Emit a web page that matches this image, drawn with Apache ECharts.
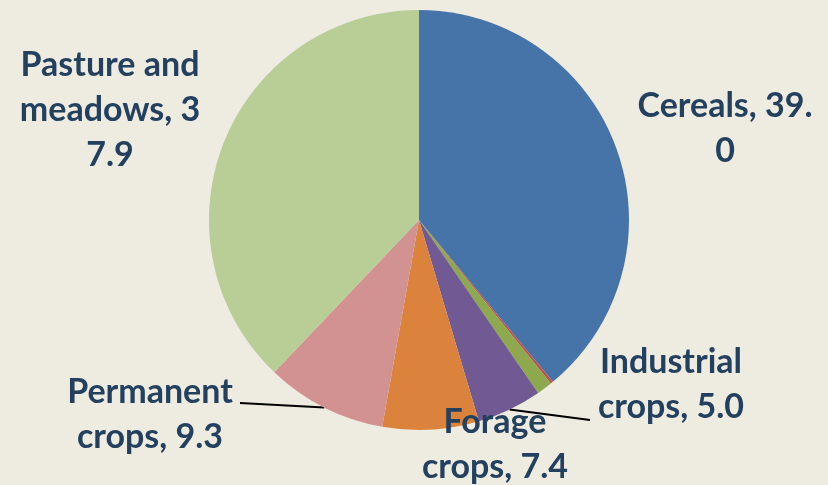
<!DOCTYPE html>
<html>
<head>
<meta charset="utf-8">
<script src="https://cdn.jsdelivr.net/npm/echarts@6/dist/echarts.min.js"></script>
<style>
  html, body { margin: 0; padding: 0; background: #EEEBE1; }
  #chart { width: 828px; height: 485px; }
</style>
</head>
<body>
<div id="chart"></div>
<script>
// Land use shares (%)
const categories = ['Cereals', 'Other', 'Vegetables', 'Industrial crops', 'Forage crops', 'Permanent crops', 'Pasture and meadows'];
const shares = [39.0, 0.2, 1.2, 5.0, 7.4, 9.3, 37.9];
// Label text as wrapped on the slide
const labelTexts = ['Cereals, 39.\n0', '', '', 'Industrial\ncrops, 5.0', 'Forage\ncrops, 7.4', 'Permanent\ncrops, 9.3', 'Pasture and\nmeadows, 3\n7.9'];
const colors = ['#4674A8', '#C0504D', '#8DA84D', '#715A93', '#DB833C', '#D39292', '#B9CD96'];

// label anchor (centre) per slice, and the outer end of its leader line if any
const labelSpots = [
  { x: 725, y: 129 },
  null,
  null,
  { x: 671, y: 385, lineEnd: [590, 420] },
  { x: 495, y: 445 },
  { x: 150, y: 415, lineEnd: [240, 403] },
  { x: 110, y: 110 }
];

const chart = echarts.init(document.getElementById('chart'));

const data = categories.map((name, i) => ({
  name: name,
  value: shares[i],
  itemStyle: { color: colors[i] },
  label: { show: labelTexts[i] !== '', formatter: labelTexts[i] },
  labelLine: { show: !!(labelSpots[i] && labelSpots[i].lineEnd) }
}));

chart.setOption({
  backgroundColor: '#EEEBE1',
  animation: false,
  series: [{
    type: 'pie',
    center: [419, 220],
    radius: [0, 210],
    startAngle: 90,
    clockwise: true,
    data: data,
    itemStyle: { borderWidth: 0 },
    label: {
      position: 'outside',
      color: '#23405F',
      fontFamily: 'Lato',
      fontWeight: 'bold',
      fontSize: 34,
      lineHeight: 45,
      align: 'center'
    },
    labelLine: {
      length: 10,
      length2: 10,
      smooth: false,
      lineStyle: { color: '#000000', width: 2 }
    },
    labelLayout: function (p) {
      const s = labelSpots[p.dataIndex];
      if (!s) return {};
      const out = { x: s.x, y: s.y, align: 'center', verticalAlign: 'middle' };
      if (s.lineEnd && p.labelLinePoints) {
        // straight leader from the slice edge to the label
        const a = p.labelLinePoints[0];
        out.labelLinePoints = [a, a, s.lineEnd];
      }
      return out;
    }
  }]
});
</script>
</body>
</html>
